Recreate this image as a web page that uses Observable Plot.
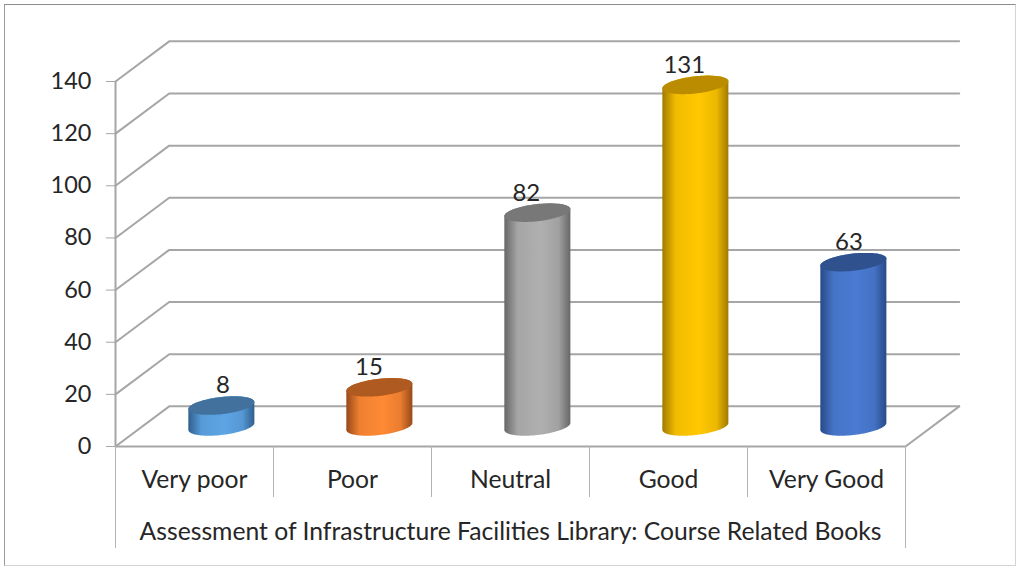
<!DOCTYPE html>
<html>
<head>
<meta charset="utf-8">
<script src="https://cdn.jsdelivr.net/npm/d3@7"></script>
<script src="https://cdn.jsdelivr.net/npm/@observablehq/plot@0.6"></script>
<style>
html,body{margin:0;padding:0;background:#fff;overflow:hidden}
#wrap{position:relative;width:1020px;height:567px}
#border{position:absolute;left:4px;top:4px;width:1012px;height:562px;box-sizing:border-box;
 border:1.5px solid #d4d4d4;border-left-color:#9a9a9a;border-top-color:#8c8c8c;pointer-events:none}
svg{display:block}
</style>
</head>
<body>
<div id="wrap"><div id="border"></div></div>
<script>
// ---- data ----
const categories = ["Very poor", "Poor", "Neutral", "Good", "Very Good"];
const counts = [8, 15, 82, 131, 63];
const yTicks = [0, 20, 40, 60, 80, 100, 120, 140];
const axisTitle = "Assessment of Infrastructure Facilities Library: Course Related Books";
const sideColors = ["#5EA5E5", "#FF8A35", "#B0B0B0", "#FFC800", "#4A7BD2"];
const edgeColors = ["#2f5f8c", "#96491a", "#676767", "#a17a00", "#284a88"];
const capColors = ["#41719C", "#AE5A21", "#787878", "#BC8C00", "#2F528F"];

// ---- 3D projection, in scale units ----
const depthX = 0.34, depthY = 15.4;      // wall depth
const radX = 0.209, radY = 3.3, tilt = 1.35; // cylinder cross-section ellipse
const labelShiftX = [0.01, -0.066, -0.07, -0.07, -0.028];
const labelLift = 7.6;
const font = "Lato, 'Open Sans', sans-serif";
const ink = "#262626", rule = "#a6a6a6";

const gridRows = yTicks.flatMap(v => [
  {v, x: 0, y: v},
  {v, x: depthX, y: v + depthY},
  {v, x: 5 + depthX, y: v + depthY}
]);
const floorRows = [
  {x: 0, y: 0}, {x: 5, y: 0}, {x: 5 + depthX, y: depthY}
];

// outline of one cylinder: lower half of the base, then upper half of the top
function outline(i) {
  const cx = i + 0.5 + depthX / 2, y0 = depthY / 2, y1 = y0 + counts[i];
  const pts = [];
  const n = 48;
  for (let k = 0; k <= n; k++) {
    const t = Math.PI + Math.PI * k / n;
    pts.push({x: cx + radX * Math.cos(t), y: y0 + radY * Math.sin(t) + tilt * Math.cos(t)});
  }
  for (let k = 0; k <= n; k++) {
    const t = Math.PI * k / n;
    pts.push({x: cx + radX * Math.cos(t), y: y1 + radY * Math.sin(t) + tilt * Math.cos(t)});
  }
  return pts;
}
function cap(i) {
  const cx = i + 0.5 + depthX / 2, y1 = depthY / 2 + counts[i];
  const pts = [];
  const n = 96;
  for (let k = 0; k <= n; k++) {
    const t = 2 * Math.PI * k / n;
    pts.push({x: cx + radX * Math.cos(t), y: y1 + radY * Math.sin(t) + tilt * Math.cos(t)});
  }
  return pts;
}

function defs() {
  const ns = "http://www.w3.org/2000/svg";
  const d = document.createElementNS(ns, "defs");
  categories.forEach((c, i) => {
    const g = document.createElementNS(ns, "linearGradient");
    g.setAttribute("id", "cyl" + i);
    g.setAttribute("x1", "0"); g.setAttribute("x2", "1");
    g.setAttribute("y1", "0"); g.setAttribute("y2", "0");
    [[0, edgeColors[i]], [0.2, d3.interpolateRgb(edgeColors[i], sideColors[i])(0.85)],
     [0.55, sideColors[i]], [0.82, d3.interpolateRgb(edgeColors[i], sideColors[i])(0.8)], [1, edgeColors[i]]]
      .forEach(([o, col]) => {
        const s = document.createElementNS(ns, "stop");
        s.setAttribute("offset", o); s.setAttribute("stop-color", col);
        g.appendChild(s);
      });
    d.appendChild(g);
  });
  return d;
}

const chart = Plot.plot({
  width: 1020,
  height: 567,
  marginLeft: 115,
  marginRight: 115,
  marginTop: 81,
  marginBottom: 121,
  style: {background: "transparent", fontFamily: font},
  x: {domain: [0, 5], axis: null},
  y: {domain: [0, 140], axis: null},
  marks: [
    defs,
    // walls and floor
    Plot.line(gridRows, {x: "x", y: "y", z: "v", stroke: rule, strokeWidth: 2, curve: "linear"}),
    Plot.line(floorRows, {x: "x", y: "y", stroke: rule, strokeWidth: 2, curve: "linear"}),
    Plot.ruleX([0], {y1: 0, y2: 140, stroke: rule, strokeWidth: 2}),
    // axes
    Plot.axisY({ticks: yTicks, tickSize: 9, tickPadding: 15, stroke: rule, fill: ink, fontSize: 23.5, tickFormat: d => d, label: null}),
    Plot.axisX({ticks: [1, 2, 3, 4], tickSize: 51, tickFormat: () => "", stroke: "#b4b4b4", label: null}),
    Plot.axisX({ticks: [0, 5], tickSize: 102, tickFormat: () => "", stroke: "#b4b4b4", label: null}),
    Plot.axisX({ticks: categories.map((c, i) => i + 0.5), tickSize: 0, tickPadding: 24, fill: ink, fontSize: 24.7,
      tickFormat: d => categories[d - 0.5], label: null}),
    Plot.axisX({ticks: [2.5], tickSize: 0, tickPadding: 76, fill: ink, fontSize: 24.7,
      tickFormat: () => axisTitle, label: null}),
    // cylinders
    ...categories.flatMap((c, i) => [
      Plot.line(outline(i), {x: "x", y: "y", fill: `url(#cyl${i})`, stroke: "none", curve: "linear"}),
      Plot.line(cap(i), {x: "x", y: "y", fill: capColors[i], stroke: "none", curve: "linear"})
    ]),
    // value labels
    Plot.text(counts, {
      x: (d, i) => i + 0.5 + depthX / 2 + labelShiftX[i],
      y: d => d + depthY / 2 + labelLift,
      text: d => String(d),
      fill: ink, fontSize: 24, lineAnchor: "middle"
    })
  ]
});
document.getElementById("wrap").prepend(chart);
</script>
</body>
</html>
